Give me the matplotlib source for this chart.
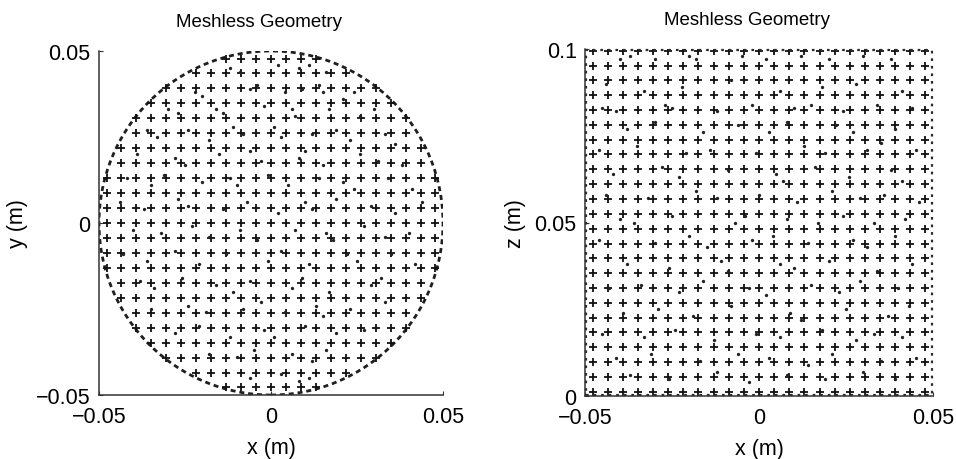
import matplotlib
matplotlib.use("Agg")
import matplotlib.pyplot as plt
from matplotlib.patches import Circle
import numpy as np

plt.rcParams['font.family'] = ['Liberation Sans', 'DejaVu Sans']

# node grid (mm)
grid_x = [-47.8, -43.5, -39.1, -34.8, -30.4, -26.1, -21.7, -17.4, -13.0, -8.7, -4.3, 0.0,
          4.3, 8.7, 13.0, 17.4, 21.7, 26.1, 30.4, 34.8, 39.1, 43.5, 47.8]
grid_y = grid_x
grid_z = [1.2, 5.5, 9.7, 14.0, 18.3, 22.6, 26.8, 31.1, 35.4, 39.7, 43.9, 48.2,
          52.5, 56.8, 61.0, 65.3, 69.6, 73.9, 78.1, 82.4, 86.7, 91.0, 95.2, 99.5]
radius = 50.0
cutoff = 49.7

# scattered extra nodes (mm)
left_dots = [
    (-12, 45), (-9, 44), (2, 46), (8, 45), (11, 46), (16, 44),
    (-22, 38), (-20, 37), (-6, 39), (-4, 40), (4, 38), (9, 39), (14, 40), (15, 38), (21, 36), (24, 38),
    (-30, 33), (-27, 32), (-16, 33), (-14, 32), (-2, 34), (6, 33), (7, 31), (17, 33), (26, 31), (30, 33),
    (-36, 27), (-33, 25), (-24, 27), (-18, 24), (-11, 28), (-8, 26), (1, 28), (3, 25), (12, 26), (19, 27),
    (23, 24), (33, 26), (36, 23),
    (-39, 20), (-28, 19), (-25, 17), (-15, 20), (-6, 21), (-3, 18), (8, 19), (10, 21), (15, 17), (26, 20),
    (31, 18), (38, 17),
    (-42, 13), (-35, 11), (-31, 14), (-20, 12), (-12, 13), (-10, 11), (-1, 14), (5, 11), (14, 13), (21, 12),
    (24, 10), (34, 13), (41, 10),
    (-44, 6), (-37, 4), (-27, 7), (-24, 5), (-14, 4), (-7, 6), (2, 3), (10, 6), (12, 4), (19, 7), (29, 5),
    (36, 3), (44, 6),
    (-40, -2), (-32, -3), (-23, -1), (-18, -4), (-9, -2), (-4, -5), (7, -2), (16, -3), (18, -5), (27, -1),
    (33, -4), (40, -3),
    (-43, -9), (-36, -11), (-28, -8), (-21, -12), (-13, -9), (-1, -11), (3, -8), (11, -12), (22, -9),
    (25, -11), (35, -9), (42, -12),
    (-38, -17), (-34, -19), (-26, -16), (-16, -18), (-11, -20), (-6, -17), (6, -19), (9, -16), (17, -20),
    (29, -18), (32, -16),
    (-35, -25), (-24, -24), (-19, -26), (-8, -25), (-3, -23), (4, -26), (13, -24), (15, -27), (23, -25),
    (33, -23),
    (-28, -32), (-21, -30), (-12, -33), (-2, -31), (1, -33), (10, -30), (19, -32), (27, -31),
    (-18, -38), (-10, -39), (-5, -37), (6, -38), (12, -40), (16, -37),
    (-6, -45), (3, -44), (8, -46), (11, -45),
]
right_dots = [
    (-40, 97), (-37, 98), (-30, 97), (-20, 98), (-18, 97), (-5, 98), (2, 97), (12, 98), (20, 97), (30, 98), (38, 97),
    (-44, 90), (-33, 88), (-22, 89), (-8, 91), (6, 88), (18, 89), (28, 90), (41, 88),
    (-45, 83), (-41, 82), (-27, 84), (-25, 83), (-12, 82), (-2, 84), (10, 83), (15, 84), (24, 82), (34, 84), (44, 83),
    (-38, 77), (-30, 79), (-16, 76), (-6, 78), (3, 76), (8, 79), (22, 78), (27, 76), (39, 77),
    (-46, 71), (-35, 72), (-21, 70), (-14, 71), (-1, 70), (13, 72), (19, 70), (31, 71), (35, 73), (45, 71),
    (-42, 64), (-28, 66), (-23, 63), (-9, 65), (5, 64), (7, 62), (16, 66), (26, 63), (38, 65), (41, 62),
    (-44, 58), (-32, 57), (-18, 59), (-12, 57), (0, 58), (11, 56), (21, 59), (29, 57), (36, 58), (46, 56),
    (-40, 51), (-36, 50), (-25, 52), (-7, 50), (-4, 52), (8, 51), (17, 50), (24, 52), (33, 50), (42, 51),
    (-46, 45), (-30, 44), (-20, 46), (-15, 43), (-2, 45), (4, 46), (14, 44), (27, 45), (31, 43), (39, 46),
    (-38, 38), (-26, 37), (-11, 39), (-9, 36), (6, 38), (10, 37), (20, 39), (34, 36), (44, 38),
    (-43, 31), (-34, 32), (-23, 30), (-16, 33), (-3, 31), (2, 29), (15, 32), (23, 30), (29, 33), (40, 31),
    (-39, 24), (-29, 25), (-19, 23), (-8, 26), (9, 24), (12, 22), (25, 25), (37, 23), (43, 26),
    (-45, 18), (-33, 17), (-24, 19), (-13, 16), (-1, 18), (6, 17), (18, 19), (28, 16), (33, 18), (41, 17),
    (-41, 11), (-31, 12), (-17, 10), (-6, 12), (3, 11), (14, 9), (21, 12), (35, 10), (45, 11),
    (-37, 6), (-26, 5), (-12, 7), (-3, 4), (8, 6), (19, 5), (30, 7), (39, 5),
]

mm = 0.001
ink = '#111111'
cross = dict(linestyle='none', marker='+', markersize=6.2, markeredgewidth=1.3, color=ink)
dot = dict(linestyle='none', marker='o', markersize=2.4, markeredgewidth=0, color='#222222')


def style(ax, yt, ylabels, ylabel):
    for s in ['top', 'right']:
        ax.spines[s].set_visible(False)
    for s in ['left', 'bottom']:
        ax.spines[s].set_color('#333333')
        ax.spines[s].set_linewidth(1.1)
    ax.set_xticks([-0.05, 0, 0.05])
    ax.set_xticklabels(['\u22120.05', '0', '0.05'])
    ax.set_yticks(yt)
    ax.set_yticklabels(ylabels)
    ax.tick_params(direction='in', length=3, width=0.8, labelsize=15.5, colors='#333333',
                   labelcolor='black')
    ax.tick_params(axis='x', pad=8)
    ax.tick_params(axis='y', pad=6)
    ax.set_xlabel('x (m)', fontsize=15.5, labelpad=7)
    ax.set_ylabel(ylabel, fontsize=15.5, labelpad=6)
    ax.set_title('Meshless Geometry', fontsize=13.5, pad=18, x=0.465)


fig = plt.figure(figsize=(9.56, 4.6), dpi=100)

# circular cross-section
ax1 = fig.add_axes([99 / 956, 64 / 460, 344 / 956, 344 / 460])
gx, gy = np.meshgrid(np.array(grid_x), np.array(grid_y))
inside = np.hypot(gx, gy) < cutoff
ax1.plot(gx[inside] * mm, gy[inside] * mm, **cross)
ld = np.array(left_dots) * mm
ax1.plot(ld[:, 0], ld[:, 1], **dot)
ax1.add_patch(Circle((0, 0), radius * mm, fill=False, edgecolor='#1f1f1f', linewidth=2.0,
                     linestyle=(0, (1.8, 1.4))))
ax1.set_xlim(-0.05, 0.05)
ax1.set_ylim(-0.05, 0.05)
style(ax1, [-0.05, 0, 0.05], ['\u22120.05', '0', '0.05'], 'y (m)')

# square cross-section
ax2 = fig.add_axes([585 / 956, 63 / 460, 348 / 956, 347 / 460])
gx2, gz2 = np.meshgrid(np.array(grid_x), np.array(grid_z))
ax2.plot(gx2.ravel() * mm, gz2.ravel() * mm, **cross)
rd = np.array(right_dots) * mm
ax2.plot(rd[:, 0], rd[:, 1], **dot)
edge_x = [-0.0497, 0.0497, 0.0497, -0.0497, -0.0497]
edge_z = [0.0004, 0.0004, 0.0998, 0.0998, 0.0004]
ax2.plot(edge_x, edge_z, color='#2a2a2a', linewidth=1.6, linestyle=(0, (1.2, 2.2)), clip_on=False)
ax2.set_xlim(-0.05, 0.05)
ax2.set_ylim(0, 0.1)
style(ax2, [0, 0.05, 0.1], ['0', '0.05', '0.1'], 'z (m)')

fig.savefig('out.png', dpi=100)
